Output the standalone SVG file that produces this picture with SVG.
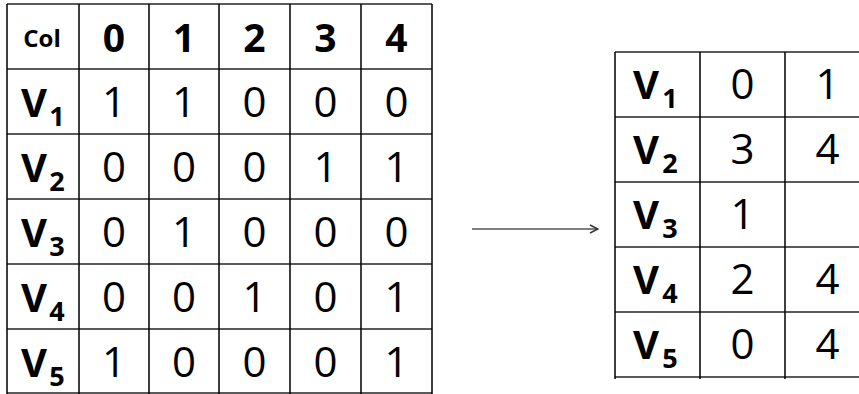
<svg xmlns="http://www.w3.org/2000/svg" width="859" height="394" viewBox="0 0 859 394">
<style>
.h{stroke:#5a5a5a;stroke-width:2;fill:none}
.v{stroke:#000;stroke-width:1.5;fill:none}
text{font-family:"Open Sans","Liberation Sans",sans-serif;fill:#000}
.d{font-size:42px;text-anchor:middle}
.hd{font-size:39px;font-weight:bold;text-anchor:middle}
.col{font-size:24px;font-weight:bold;text-anchor:middle}
.V{font-size:40px;font-weight:bold}
.s{font-size:27px;font-weight:bold;text-anchor:middle}
</style>
<defs>
<marker id="ah" viewBox="0 0 10 10" refX="9" refY="5" markerWidth="10" markerHeight="10" markerUnits="userSpaceOnUse" orient="auto">
<path d="M1,1 L9,5 L1,9" fill="none" stroke="#333" stroke-width="1.5"/>
</marker>
</defs>
<g id="matrix">
<g id="matrix-grid">
<path class="h" d="M7,4H432M7,69H432M7,134H432M7,199H432M7,264H432M7,329H432M7,393H432"/>
<path class="v" d="M7,4V394M79,4V394M149,4V394M219,4V394M290,4V394M361,4V394M432,4V394"/>
</g>
<g id="matrix-header">
<text class="col" x="42" y="47">Col</text>
<text class="hd" x="114" y="52">0</text>
<text class="hd" x="184" y="52">1</text>
<text class="hd" x="254.5" y="52">2</text>
<text class="hd" x="325.5" y="52">3</text>
<text class="hd" x="396.5" y="52">4</text>
</g>
<g id="matrix-row1">
<text class="V" x="21" y="117">V</text><text class="s" x="57" y="126">1</text>
<text class="d" x="114" y="117">1</text><text class="d" x="184" y="117">1</text><text class="d" x="254.5" y="117">0</text><text class="d" x="325.5" y="117">0</text><text class="d" x="396.5" y="117">0</text>
</g>
<g id="matrix-row2">
<text class="V" x="21" y="182">V</text><text class="s" x="57" y="191">2</text>
<text class="d" x="114" y="182">0</text><text class="d" x="184" y="182">0</text><text class="d" x="254.5" y="182">0</text><text class="d" x="325.5" y="182">1</text><text class="d" x="396.5" y="182">1</text>
</g>
<g id="matrix-row3">
<text class="V" x="21" y="247">V</text><text class="s" x="57" y="256">3</text>
<text class="d" x="114" y="247">0</text><text class="d" x="184" y="247">1</text><text class="d" x="254.5" y="247">0</text><text class="d" x="325.5" y="247">0</text><text class="d" x="396.5" y="247">0</text>
</g>
<g id="matrix-row4">
<text class="V" x="21" y="312">V</text><text class="s" x="57" y="321">4</text>
<text class="d" x="114" y="312">0</text><text class="d" x="184" y="312">0</text><text class="d" x="254.5" y="312">1</text><text class="d" x="325.5" y="312">0</text><text class="d" x="396.5" y="312">1</text>
</g>
<g id="matrix-row5">
<text class="V" x="21" y="377">V</text><text class="s" x="57" y="386">5</text>
<text class="d" x="114" y="377">1</text><text class="d" x="184" y="377">0</text><text class="d" x="254.5" y="377">0</text><text class="d" x="325.5" y="377">0</text><text class="d" x="396.5" y="377">1</text>
</g>
</g>
<g id="connectors">
<line x1="472" y1="229" x2="598" y2="229" stroke="#555" stroke-width="1.5" marker-end="url(#ah)"/>
</g>
<g id="list">
<g id="list-grid">
<path class="h" d="M615,52H859M615,117H859M615,182H859M615,247H859M615,312H859M615,377H859"/>
<path class="v" d="M615,52V379M700,52V379M785,52V379"/>
</g>
<g id="list-row1">
<text class="V" x="633" y="99">V</text><text class="s" x="670" y="108">1</text>
<text class="d" x="742.5" y="99">0</text><text class="d" x="827.5" y="99">1</text>
</g>
<g id="list-row2">
<text class="V" x="633" y="164">V</text><text class="s" x="670" y="173">2</text>
<text class="d" x="742.5" y="164">3</text><text class="d" x="827.5" y="164">4</text>
</g>
<g id="list-row3">
<text class="V" x="633" y="229">V</text><text class="s" x="670" y="238">3</text>
<text class="d" x="742.5" y="229">1</text>
</g>
<g id="list-row4">
<text class="V" x="633" y="294">V</text><text class="s" x="670" y="303">4</text>
<text class="d" x="742.5" y="294">2</text><text class="d" x="827.5" y="294">4</text>
</g>
<g id="list-row5">
<text class="V" x="633" y="359">V</text><text class="s" x="670" y="368">5</text>
<text class="d" x="742.5" y="359">0</text><text class="d" x="827.5" y="359">4</text>
</g>
</g>
</svg>
